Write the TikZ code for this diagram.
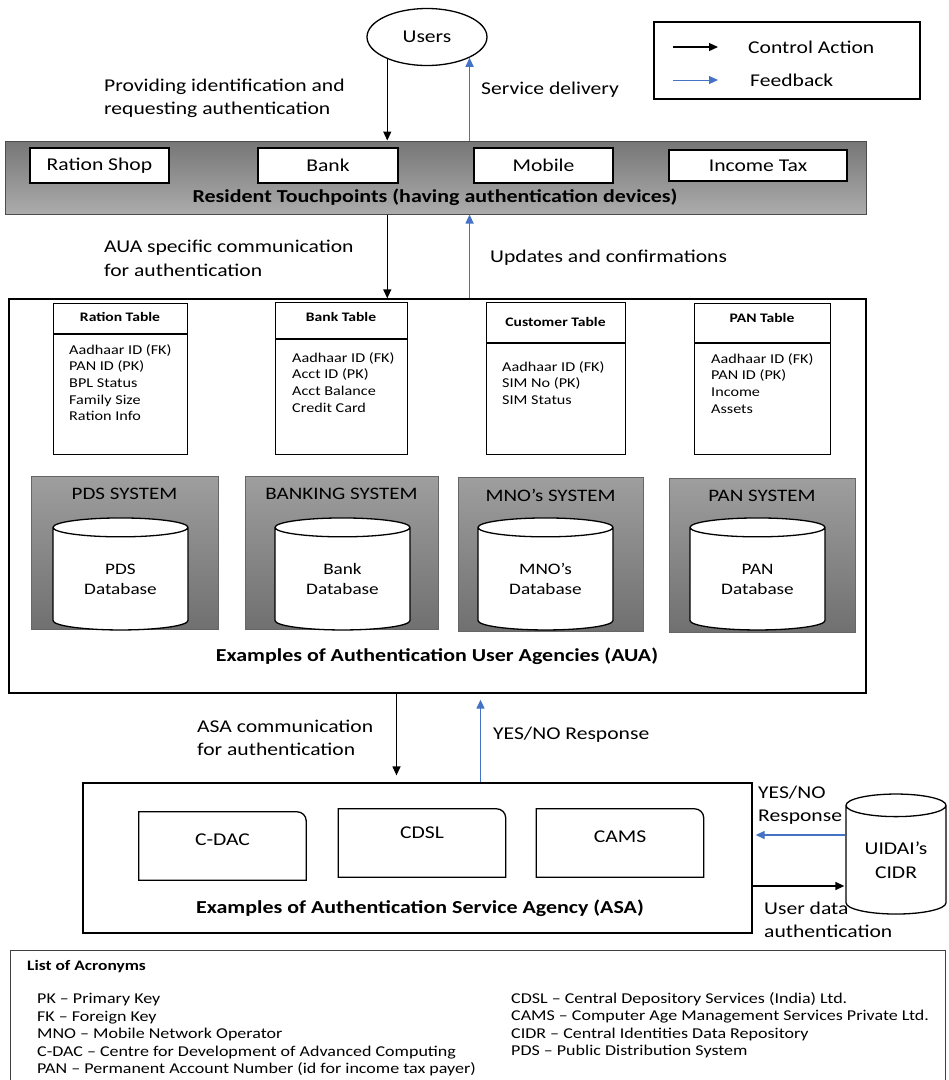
\documentclass[tikz,border=0pt]{standalone}
\usepackage{fontspec}
\setmainfont{Carlito}[FakeStretch=1.2]
\usepackage{tikz}
\usetikzlibrary{arrows.meta,positioning,shapes.geometric,calc}
\usepackage{xcolor}
\definecolor{fbblue}{RGB}{68,114,196}
\definecolor{bartop}{RGB}{118,118,118}
\definecolor{barbot}{RGB}{172,172,172}
\definecolor{systop}{RGB}{158,158,158}
\definecolor{sysbot}{RGB}{112,112,112}
\newcommand{\fsz}[2]{\fontsize{#1}{#2}\selectfont}

\begin{document}
\begin{tikzpicture}[x=1pt,y=-1pt,
    ctrl/.style={-{Triangle[length=9pt,width=8pt]},line width=1.3pt},
    fdbk/.style={-{Triangle[length=9pt,width=8pt]},line width=1.3pt,fbblue},
    box/.style={draw,line width=1.3pt,fill=white,inner sep=0pt},
    lbl/.style={font=\fsz{18}{23.5},align=left,inner sep=0pt},
    boldlbl/.style={font=\bfseries\fsz{18.3}{22}},
    dbcyl/.style={cylinder,shape border rotate=90,draw,line width=1.3pt,fill=white,
        inner sep=0pt,align=center,font=\fsz{16}{20}}]
    \useasboundingbox (0,0) rectangle (949,1080);

    % users and legend
    \node[draw,ellipse,line width=1.3pt,minimum width=120,minimum height=57,inner sep=0pt,
        font=\fsz{18}{22}] (users) at (427,37) {Users};
    \node[draw,line width=1.3pt,minimum width=266,minimum height=77] (legend) at (787,60.5) {};
    \coordinate (lgA) at (673,47);
    \coordinate (lgB) at (718,47);
    \coordinate (lgC) at (673,80);
    \coordinate (lgD) at (718,80);
    \draw[ctrl] (lgA) -- (lgB);
    \draw[fdbk,line width=1pt] (lgC) -- (lgD);
    \node[lbl,anchor=west] (lgctrl) at (748,47) {Control Action};
    \node[lbl,anchor=west] (lgfb) at (750,80) {Feedback};

    % resident touchpoints
    \node[draw=black!70,line width=1pt,top color=bartop,bottom color=barbot,
        minimum width=861,minimum height=73,inner sep=0pt] (bar) at (435.5,177.5) {};
    \foreach \nm/\xc/\w/\h/\txt in {rshop/99.5/139/35/Ration Shop, bank/328/140/35/Bank,
        mobile/543.5/139/35/Mobile, itax/758/178/31/Income Tax}
        \node[box,minimum width=\w,minimum height=\h,font=\fsz{18}{22}] (\nm) at (\xc,165.5) {\txt};
    \node[boldlbl] (barlbl) at (435,197)
        {Resident Touchpoints (having authentication devices)};

    \draw[ctrl] (users.209) -- (users.209 |- bar.north);
    \draw[fdbk] (bar.north -| users.334) -- (users.334);
    \node[lbl,anchor=west] (provtxt) at (104,98.5) {Providing identification and\\requesting authentication};
    \node[lbl,anchor=west] (svctxt) at (481,90) {Service delivery};

    % AUA
    \node[draw,line width=1.3pt,minimum width=857,minimum height=394,inner sep=0pt] (aua) at (437.5,496) {};
    \draw[ctrl] (users.209 |- bar.south) -- (users.209 |- aua.north);
    \draw[fdbk] (aua.north -| users.334) -- (bar.south -| users.334);
    \node[lbl,anchor=west] (auatxt) at (104,258.5) {AUA specific communication\\for authentication};
    \node[lbl,anchor=west] (updtxt) at (490,258) {Updates and confirmations};

    % tables
    \foreach \nm/\xl/\xr/\yt/\hl/\hy/\tx/\iy/\head/\items in {
        rtab/53/187/303/334/317/69/350/Ration Table/{Aadhaar ID (FK)\\PAN ID (PK)\\BPL Status\\Family Size\\Ration Info},
        btab/275/407/302/339/317/292/358/Bank Table/{Aadhaar ID (FK)\\Acct ID (PK)\\Acct Balance\\Credit Card},
        ctab/486/625/302/343/322/502/367/Customer Table/{Aadhaar ID (FK)\\SIM No (PK)\\SIM Status},
        ptab/694/830/303/343/318/711/359/PAN Table/{Aadhaar ID (FK)\\PAN ID (PK)\\Income\\Assets}}
    {
        \node[box,anchor=north west,minimum width={\xr-\xl},minimum height={454-\yt}] (\nm) at (\xl,\yt) {};
        \draw[line width=1.3pt] (\nm.west |- 0,\hl) -- (\nm.east |- 0,\hl);
        \node[font=\bfseries\fsz{13}{16}] at ({(\xl+\xr)/2},\hy) {\head};
        \node[anchor=north west,align=left,inner sep=0pt,font=\fsz{13.5}{16.7}] at (\tx,\iy-6) {\items};
    }

    % systems with databases
    \foreach \nm/\xl/\xr/\yt/\yb/\cx/\title/\db in {
        pds/31/218/476/629/120.5/PDS SYSTEM/PDS, bnk/245/438/476/629/342.5/BANKING SYSTEM/Bank,
        mno/458/643/477/631/545.5/MNO’s SYSTEM/MNO’s, pan/669/855/478/632/757.5/PAN SYSTEM/PAN}
    {
        \node[draw=black!60,line width=0.8pt,top color=systop,bottom color=sysbot,anchor=north west,
            minimum width={\xr-\xl},minimum height={\yb-\yt},inner sep=0pt] (sys\nm) at (\xl,\yt) {};
        \node[font=\fsz{17.5}{21}] at ({(\xl+\xr)/2},\yt+18) {\title};
        \node[dbcyl,minimum width=135,minimum height=112,aspect=0.26] (db\nm) at (\cx,579) {\db\\Database};
    }
    \node[boldlbl] (aualbl) at (437,656) {Examples of Authentication User Agencies (AUA)};

    % ASA
    \node[draw,line width=1.3pt,minimum width=669,minimum height=150,inner sep=0pt] (asa) at (417.5,858) {};
    \coordinate (ctlB) at ($(aua.south)+(-41,0)$);
    \coordinate (fbB) at ($(aua.south)+(43,0)$);
    \draw[ctrl,shorten >=7pt] (ctlB) -- (ctlB |- asa.north);
    \draw[fdbk,shorten >=6pt] (fbB |- asa.north) -- (fbB);
    \node[lbl,anchor=west] (asatxt) at (197,738) {ASA communication\\for authentication};
    \node[lbl,anchor=west] (yntxt) at (493,735) {YES/NO Response};

    \foreach \nm/\xc/\yc/\ty/\txt in {cdac/222.5/846/840/C-DAC, cdsl/422/843/833/CDSL, cams/620/843/837/CAMS}
    {
        \node[minimum width=167,minimum height=68,inner sep=0pt] (\nm) at (\xc,\yc) {};
        \draw[line width=1.3pt] (\nm.south west) -- (\nm.north west) [rounded corners=9pt] -- (\nm.north east)
            [sharp corners] -- (\nm.south east) -- cycle;
        \node[font=\fsz{18}{22}] at (\xc,\ty) {\txt};
    }
    \node[boldlbl] (asalbl) at (420,908) {Examples of Authentication Service Agency (ASA)};

    % UIDAI CIDR
    \node[dbcyl,font=\fsz{18}{24},minimum width=100,minimum height=120,aspect=0.36] (cidr) at (896,860) {UIDAI’s\\CIDR};
    \coordinate (fbA) at ([yshift=25pt]cidr.west);
    \coordinate (ctlA) at ([yshift=-26pt]cidr.west);
    \draw[fdbk,shorten >=3pt] (fbA) -- (fbA -| asa.east);
    \draw[ctrl,shorten >=1pt] (ctlA -| asa.east) -- (ctlA);
    \node[lbl,anchor=west] (yn2txt) at (758,805) {YES/NO\\Response};
    \node[lbl,anchor=west] (udtxt) at (764,920) {User data\\authentication};

    % acronyms
    \node[draw=black!75,line width=1.3pt,anchor=north west,minimum width=935,minimum height=140,
        inner sep=0pt] (acro) at (10,950) {};
    \node[anchor=west,inner sep=0pt,font=\bfseries\fsz{14.5}{17.5}] (acrotitle) at (27,967) {List of Acronyms};
    \node[anchor=north west,align=left,inner sep=0pt,font=\fsz{15}{17.5}] (acroL) at (37,993)
        {PK – Primary Key\\FK – Foreign Key\\MNO – Mobile Network Operator\\
         C-DAC – Centre for Development of Advanced Computing\\
         PAN – Permanent Account Number (id for income tax payer)};
    \node[anchor=north west,align=left,inner sep=0pt,font=\fsz{15}{17.5}] (acroR) at (511,992)
        {CDSL – Central Depository Services (India) Ltd.\\
         CAMS – Computer Age Management Services Private Ltd.\\
         CIDR – Central Identities Data Repository\\PDS – Public Distribution System};
\end{tikzpicture}
\end{document}
